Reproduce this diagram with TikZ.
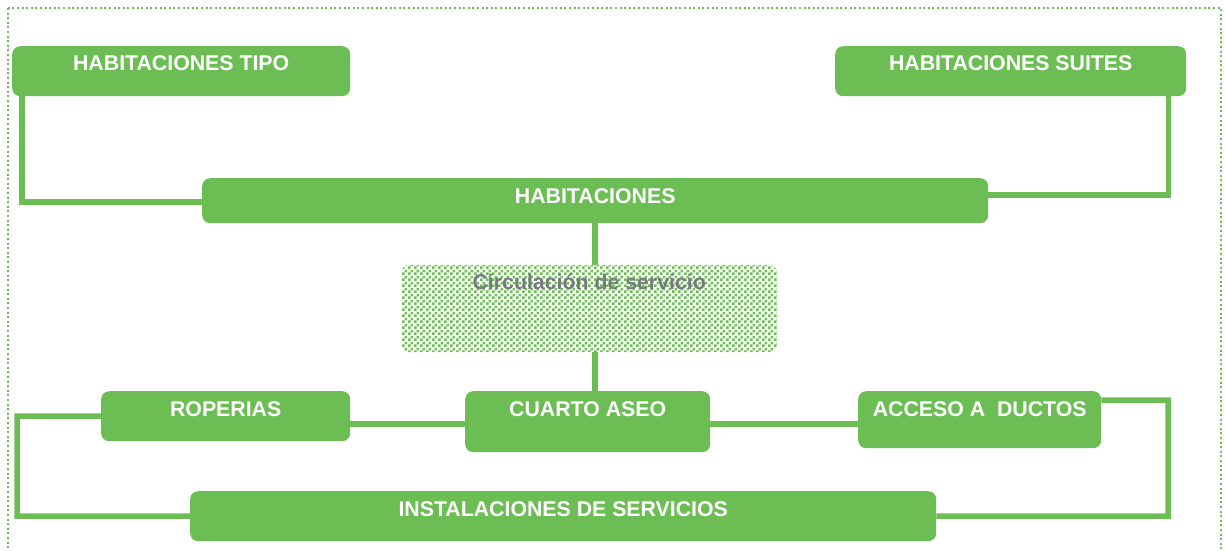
\documentclass[tikz,border=0pt]{standalone}
\usepackage{fontspec}
\setmainfont{Liberation Sans}
\usetikzlibrary{patterns.meta}
\definecolor{g}{RGB}{108,190,84}
\definecolor{gt}{RGB}{120,120,130}
\tikzdeclarepattern{
  name=mycheck,
  type=uncolored,
  bounding box={(0pt,0pt) and (6pt,6pt)},
  tile size={(6pt,6pt)},
  code={\fill (0pt,0pt) rectangle (3pt,3pt); \fill (3pt,3pt) rectangle (6pt,6pt);}
}
\tikzset{
  box/.style={fill=g, rounded corners=8pt, text=white, inner sep=0pt, anchor=north west,
    font=\bfseries\fontsize{21.3}{21.3}\selectfont},
  circbox/.style={pattern=mycheck, pattern color=g, rounded corners=8pt, text=gt, inner sep=0pt,
    anchor=north west, font=\bfseries\fontsize{21.3}{21.3}\selectfont},
  conn/.style={draw=g, line width=5.5pt, line join=miter}
}
\begin{document}
\begin{tikzpicture}[x=1pt,y=-1pt]
\useasboundingbox (0,0) rectangle (1225,550);
\draw[g, line width=2pt, dash pattern=on 2pt off 2.6pt] (8,8) rectangle (1221,560);

\node[box, minimum width=338pt, text height=24pt, text depth=26pt] (tipo) at (12,46) {HABITACIONES TIPO};
\node[box, minimum width=351pt, text height=24pt, text depth=26pt] (suites) at (835,46) {HABITACIONES SUITES};
\node[box, minimum width=786pt, text height=25pt, text depth=20pt] (hab) at (202,178) {HABITACIONES};
\node[circbox, minimum width=376pt, text height=24pt, text depth=63pt] (circ) at (401,265) {Circulación de servicio};
\node[box, minimum width=249pt, text height=25pt, text depth=25pt] (rop) at (101,391) {ROPERIAS};
\node[box, minimum width=245pt, text height=25pt, text depth=36pt] (aseo) at (465,391) {CUARTO ASEO};
\node[box, minimum width=243pt, text height=25pt, text depth=32pt] (acceso) at (858,391) {ACCESO A\ \ DUCTOS};
\node[box, minimum width=746pt, text height=25pt, text depth=25pt] (inst) at (190,491) {INSTALACIONES DE SERVICIOS};

\coordinate (lc) at (17,516);
\coordinate (rc) at (1168,516);

\draw[conn] ([xshift=10pt]tipo.south west) |- ([yshift=-1.5pt]hab.west);
\draw[conn] ([xshift=-18pt]suites.south east) |- ([yshift=5.5pt]hab.east);
\draw[conn] (hab.south) -- (hab.south |- circ.north);
\draw[conn] (circ.south -| hab.south) -- (aseo.north -| hab.south);
\draw[conn] ([yshift=-8pt]rop.east) -- ([yshift=-8pt]rop.east -| aseo.west);
\draw[conn] ([yshift=-2.5pt]aseo.east) -- ([yshift=-2.5pt]aseo.east -| acceso.west);
\draw[conn] (rop.west) -| (lc) -- (inst.west);
\draw[conn] ([yshift=19.5pt]acceso.east) -| (rc) -- (inst.east);
\end{tikzpicture}
\end{document}
